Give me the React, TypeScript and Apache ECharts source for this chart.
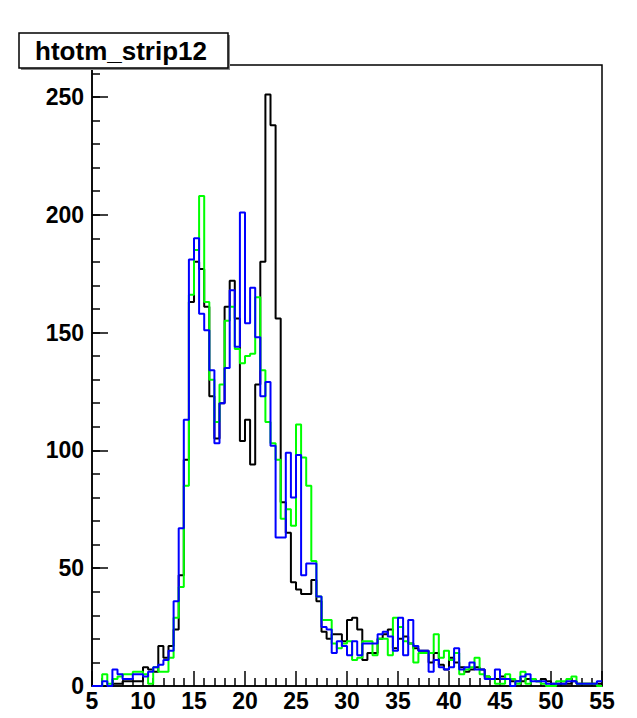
import React, { useEffect, useRef } from "react";
import * as echarts from "echarts";

// Histogram: 100 bins of width 0.5 from 5 to 55
const binStart = 5;
const binWidth = 0.5;

const blackCounts = [
  0, 0, 0, 0, 1, 1, 2, 2, 2, 2,
  8, 7, 6, 17, 12, 17, 24, 47, 96, 163,
  180, 177, 161, 123, 105, 120, 161, 172, 156, 104,
  113, 94, 128, 180, 251, 238, 156, 78, 65, 44,
  41, 39, 39, 45, 36, 23, 20, 22, 22, 19,
  28, 29, 24, 11, 14, 14, 20, 22, 24, 16,
  20, 21, 18, 16, 15, 15, 10, 14, 9, 7,
  12, 10, 8, 6, 7, 8, 7, 4, 3, 3,
  4, 3, 2, 2, 2, 3, 3, 2, 3, 2,
  1, 1, 1, 1, 2, 1, 1, 1, 1, 1,
];

const greenCounts = [
  0, 0, 5, 1, 3, 4, 5, 5, 6, 6,
  5, 1, 8, 6, 6, 12, 29, 42, 85, 166,
  185, 208, 163, 130, 112, 128, 155, 161, 143, 137,
  140, 141, 165, 134, 112, 103, 96, 71, 75, 68,
  111, 97, 85, 53, 38, 28, 28, 18, 16, 18,
  19, 11, 12, 19, 19, 13, 20, 20, 13, 29,
  25, 19, 18, 10, 14, 14, 14, 22, 12, 15,
  11, 14, 5, 7, 8, 12, 5, 4, 3, 1,
  1, 5, 3, 1, 6, 1, 3, 2, 1, 0,
  0, 2, 2, 3, 4, 1, 1, 1, 1, 0,
];

const blueCounts = [
  0, 0, 2, 0, 7, 5, 3, 3, 5, 5,
  4, 6, 8, 9, 11, 15, 36, 67, 113, 181,
  190, 158, 151, 134, 103, 120, 135, 168, 144, 201,
  154, 169, 148, 123, 129, 102, 63, 63, 99, 80,
  98, 47, 52, 52, 38, 25, 24, 14, 19, 17,
  13, 19, 13, 18, 18, 18, 22, 23, 21, 15,
  29, 13, 28, 17, 15, 15, 6, 11, 8, 7,
  8, 16, 7, 8, 10, 7, 7, 3, 3, 7,
  3, 3, 0, 2, 4, 5, 2, 2, 2, 1,
  1, 1, 1, 2, 2, 1, 1, 1, 1, 2,
];

const xTickValues = [5, 10, 15, 20, 25, 30, 35, 40, 45, 50, 55];
const yTickValues = [0, 50, 100, 150, 200, 250];
const titleText = "htotm_strip12";

function toSteps(counts: number[]): number[][] {
  const pts: number[][] = counts.map((c, i) => [binStart + i * binWidth, c]);
  pts.push([binStart + counts.length * binWidth, counts[counts.length - 1]]);
  return pts;
}

const FONT = "'Liberation Sans', Arial, Helvetica, sans-serif";

export default function App() {
  const ref = useRef<HTMLDivElement>(null);
  useEffect(() => {
    if (!ref.current) return;
    const chart = echarts.init(ref.current, null, { renderer: "svg" });
    const ymax = Math.max(...blackCounts, ...greenCounts, ...blueCounts) * 1.05;
    const mkSeries = (name: string, counts: number[], color: string, z: number) => ({
      name,
      type: "line",
      step: "end",
      data: toSteps(counts),
      showSymbol: false,
      symbol: "none",
      lineStyle: { color, width: 2 },
      itemStyle: { color },
      z,
      clip: true,
      silent: true,
    });
    chart.setOption({
      animation: false,
      backgroundColor: "#ffffff",
      grid: {
        left: 92,
        right: 35,
        top: 65,
        bottom: 32,
        show: true,
        borderColor: "#000",
        borderWidth: 1.5,
        backgroundColor: "transparent",
      },
      xAxis: {
        type: "value",
        min: xTickValues[0],
        max: xTickValues[xTickValues.length - 1],
        interval: 5,
        axisLine: { show: true, lineStyle: { color: "#000", width: 1.5 } },
        axisTick: { show: true, inside: true, length: 15, lineStyle: { color: "#000", width: 1.5 } },
        minorTick: { show: true, splitNumber: 5, length: 8, lineStyle: { color: "#000", width: 1.5 } },
        splitLine: { show: false },
        axisLabel: {
          show: true,
          color: "#000",
          fontFamily: FONT,
          fontWeight: "bold",
          fontSize: 23,
          margin: 3,
          formatter: (v: number) => (xTickValues.includes(v) ? String(v) : ""),
        },
      },
      yAxis: [
        {
          type: "value",
          min: 0,
          max: ymax,
          interval: 50,
          axisLine: { show: true, lineStyle: { color: "#000", width: 1.5 } },
          axisTick: { show: true, inside: true, length: 16, lineStyle: { color: "#000", width: 1.5 } },
          splitLine: { show: false },
          axisLabel: {
            show: true,
            color: "#000",
            fontFamily: FONT,
            fontWeight: "bold",
            fontSize: 23,
            margin: 8,
            formatter: (v: number) => (yTickValues.includes(v) ? String(v) : ""),
          },
        },
        {
          type: "value",
          min: 0,
          max: ymax,
          interval: 10,
          position: "left",
          axisLine: { show: false },
          axisTick: { show: true, inside: true, length: 8, lineStyle: { color: "#000", width: 1.5 } },
          splitLine: { show: false },
          axisLabel: { show: false },
        },
      ],
      series: [
        mkSeries("black", blackCounts, "#000000", 2),
        mkSeries("green", greenCounts, "#00ff00", 3),
        mkSeries("blue", blueCounts, "#0000ff", 4),
      ],
      graphic: [
        {
          type: "rect",
          z: 100,
          shape: { x: 21, y: 35, width: 209, height: 35 },
          style: { fill: "#888888" },
        },
        {
          type: "rect",
          z: 101,
          shape: { x: 19, y: 33, width: 209, height: 35 },
          style: { fill: "#ffffff", stroke: "#000", lineWidth: 1.5 },
        },
        {
          type: "text",
          z: 102,
          x: 121,
          y: 51,
          style: {
            text: titleText,
            fill: "#000",
            font: `bold 26px ${FONT}`,
            textAlign: "center",
            textVerticalAlign: "middle",
          },
        },
      ],
    });
    return () => chart.dispose();
  }, []);
  return (
    <div
      ref={ref}
      style={{ position: "fixed", left: 0, top: 0, width: 637, height: 718, background: "#fff" }}
    />
  );
}
